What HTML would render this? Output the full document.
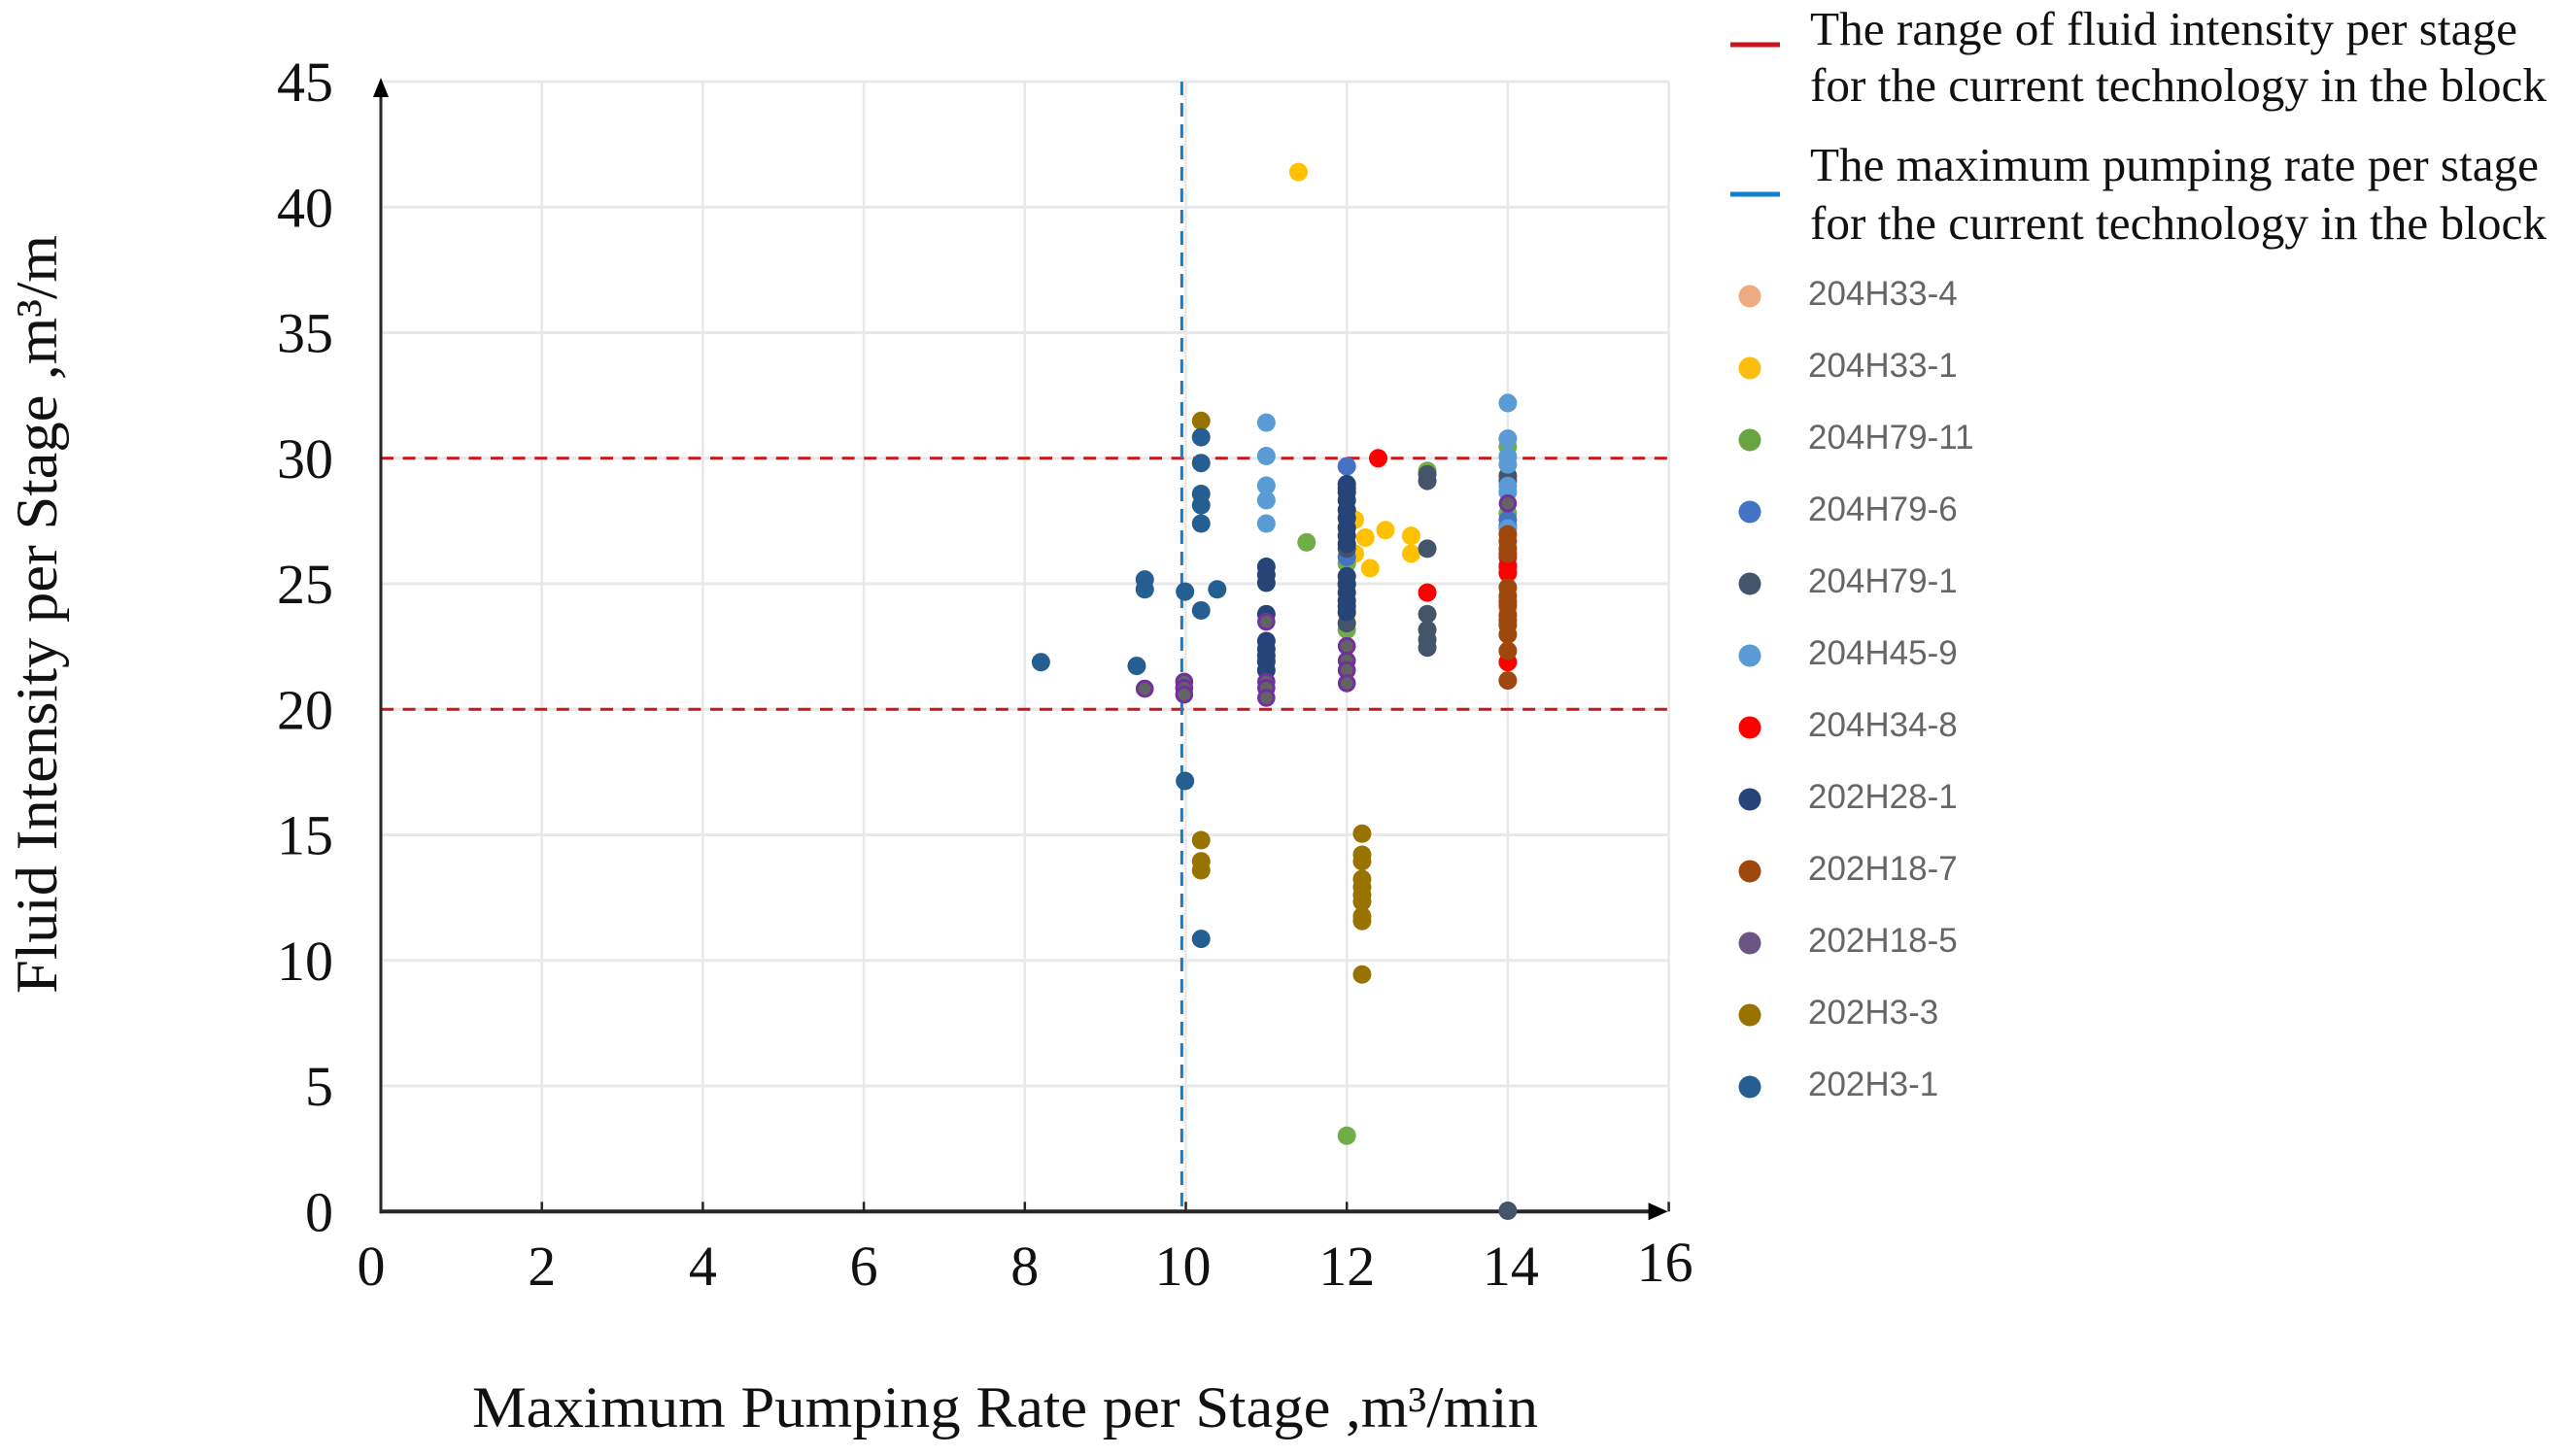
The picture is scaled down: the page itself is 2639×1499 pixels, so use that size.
<!DOCTYPE html>
<html lang="en">
<head>
<meta charset="utf-8">
<title>Fluid intensity vs maximum pumping rate per stage</title>
<style>
html,body{margin:0;padding:0;background:#fff;}
svg{display:block;}
text{font-family:"Liberation Serif",serif;fill:#111;}
.lg{font-family:"Liberation Sans",sans-serif;font-size:35px;fill:#666;}
</style>
</head>
<body>
<svg id="chart" xmlns="http://www.w3.org/2000/svg" width="2639" height="1499" viewBox="0 0 2639 1499">
<rect width="2639" height="1499" fill="#fff"/>
<g id="grid"></g>
<g id="refs"></g>
<g id="axes"></g>
<g id="marks"></g>
<text x="486" y="1469" font-size="60" textLength="1097" lengthAdjust="spacingAndGlyphs">Maximum Pumping Rate per Stage ,m³/min</text>
<text transform="translate(58,1023) rotate(-90)" font-size="60" textLength="781" lengthAdjust="spacingAndGlyphs">Fluid Intensity per Stage ,m³/m</text>
<g>
<line x1="1781" x2="1832" y1="46" y2="46" stroke="#c8161d" stroke-width="5"/>
<text x="1863" y="46" font-size="49" textLength="728" lengthAdjust="spacingAndGlyphs">The range of fluid  intensity per stage</text>
<text x="1863" y="104" font-size="49" textLength="758" lengthAdjust="spacingAndGlyphs">for the current technology in the block</text>
<line x1="1781" x2="1832" y1="200" y2="200" stroke="#0f7fd1" stroke-width="5"/>
<text x="1863" y="186" font-size="49" textLength="750" lengthAdjust="spacingAndGlyphs">The maximum  pumping rate per stage</text>
<text x="1863" y="246" font-size="49" textLength="758" lengthAdjust="spacingAndGlyphs">for the current technology in the block</text>
<g id="legend-items"></g>
</g>
</svg>
<script>
const xTicks = [0, 2, 4, 6, 8, 10, 12, 14, 16];
const yTicks = [0, 5, 10, 15, 20, 25, 30, 35, 40, 45];
const rangeLimits = [20, 30];
const maxRateLimit = [9.95];

const seriesNames = ['204H33-4','204H33-1','204H79-11','204H79-6','204H79-1','204H45-9','204H34-8','202H28-1','202H18-7','202H18-5','202H3-3','202H3-1'];
const seriesColors = ['#f4b183','#ffc000','#70ad47','#4472c4','#44546a','#5b9bd5','#ff0000','#264478','#9e480e','#636363','#997300','#255e91'];
const legendColors = ['#eeaa80','#ffbd0f','#6aa341','#4472c4','#44546a','#5b9bd5','#ff0000','#264478','#9e480e','#6b5583','#997300','#255e91'];

const x204H33_4 = [14];
const y204H33_4 = [24];
const x204H33_1 = [11.4,12.1,12.23,12.48,12.8,12.8,12.29,12.1,12,12];
const y204H33_1 = [41.4,27.55,26.84,27.14,26.91,26.2,25.62,26.2,23.8,27.3];
const x204H79_11 = [11.5,12,12,12,13,14,14];
const y204H79_11 = [26.65,3.02,23.17,25.81,29.5,30.46,27.8];
const x204H79_6 = [12,12,12,14,14];
const y204H79_6 = [29.68,26.07,25,27.55,27.3];
const x204H79_1 = [13,13,13,13,13,13,13,14,14,14,12,12];
const y204H79_1 = [29.36,29.1,26.4,23.79,23.17,22.78,22.46,0.03,29.3,29.1,26.4,23.43];
const x204H45_9 = [11,11,11,11,11,14,14,14,14,14,14,14,14];
const y204H45_9 = [31.42,30.09,28.91,28.33,27.4,32.2,30.78,30.07,29.75,28.9,28.65,27.2,25.75];
const x204H34_8 = [12.39,13,14,14,14,14];
const y204H34_8 = [30,24.65,26.07,25.68,25.43,21.88];
const x202H28_1 = [11,11,11,11,11,11,11,11,11,12,12,12,12,12,12,12,12,12,12,12,12,12,12,12];
const y202H28_1 = [25.68,25.36,25.04,23.79,22.72,22.4,22.14,21.9,21.56,28.97,28.65,28.33,27.94,27.62,27.23,26.91,26.59,25.3,24.98,24.65,24.33,24.1,23.88,28.8];
const x202H18_7 = [14,14,14,14,14,14,14,14,14,14,14,14,14,14];
const y202H18_7 = [26.97,26.7,26.4,26.2,24.85,24.52,24.14,23.75,23.36,22.98,23.55,24.3,22.33,21.15];
const x202H18_5 = [9.49,9.98,9.98,9.98,11,11,11,11,12,12,12,12,14];
const y202H18_5 = [20.82,21.1,20.85,20.59,23.49,21.1,20.85,20.46,22.52,21.94,21.56,21.04,28.2];
const x202H3_3 = [10.19,10.19,10.19,10.19,12.19,12.19,12.19,12.19,12.19,12.19,12.19,12.19,12.19,12.19];
const y202H3_3 = [31.49,14.79,13.95,13.59,15.05,14.21,13.95,13.24,12.92,12.6,12.34,11.76,11.57,9.44];
const x202H3_1 = [8.2,9.39,9.49,9.49,9.99,10.19,10.39,9.99,10.19,10.19,10.19,10.19,10.19,10.19];
const y202H3_1 = [21.88,21.73,25.17,24.78,24.69,23.94,24.78,17.15,10.86,30.84,29.81,28.58,28.13,27.4];

const seriesX = [x204H33_4,x204H33_1,x204H79_11,x204H79_6,x204H79_1,x204H45_9,x204H34_8,x202H28_1,x202H18_7,x202H18_5,x202H3_3,x202H3_1];
const seriesY = [y204H33_4,y204H33_1,y204H79_11,y204H79_6,y204H79_1,y204H45_9,y204H34_8,y202H28_1,y202H18_7,y202H18_5,y202H3_3,y202H3_1];

const NS = 'http://www.w3.org/2000/svg';
const xScale = v => 392 + 82.85 * v;
const yScale = v => 1247.3 - 25.85 * v;
const gridEl = document.getElementById('grid');
const refsEl = document.getElementById('refs');
const axesEl = document.getElementById('axes');
const marksEl = document.getElementById('marks');
const legendEl = document.getElementById('legend-items');

function mk(parent, tag, attrs, text) {
  const el = document.createElementNS(NS, tag);
  for (const k in attrs) el.setAttribute(k, attrs[k]);
  if (text !== undefined) el.textContent = text;
  parent.appendChild(el);
  return el;
}

xTicks.forEach(v => {
  const px = xScale(v);
  if (v > 0) {
    const g = mk(gridEl, 'line', {x1: px, x2: px, y1: yScale(45), y2: yScale(0), stroke: '#e8e8e8', 'stroke-width': 2.5});
    
    
    const t = mk(axesEl, 'line', {x1: px, x2: px, y1: yScale(0) - 10, y2: yScale(0), stroke: '#262626', 'stroke-width': 2.5});
    
    
  }
  const dx = v === 0 ? -10 : v === 14 ? 3 : v === 10 ? -3 : v === 16 ? -4 : 0;
  const dy = v === 16 ? -4 : 0;
  const label = mk(axesEl, 'text', {x: px + dx, y: 1323 + dy, 'font-size': 58, 'text-anchor': 'middle'}, String(v));
  
  
});

yTicks.forEach(v => {
  const py = yScale(v);
  if (v > 0) {
    const g = mk(gridEl, 'line', {x1: xScale(0), x2: xScale(16), y1: py, y2: py, stroke: '#e8e8e8', 'stroke-width': 3});
    
    
  }
  const label = mk(axesEl, 'text', {x: 343, y: py + 20, 'font-size': 58, 'text-anchor': 'end'}, String(v));
  
  
});

rangeLimits.forEach(v => {
  const l = mk(refsEl, 'line', {x1: xScale(0), x2: xScale(16), y1: yScale(v), y2: yScale(v), stroke: '#c8161d', 'stroke-width': 3, 'stroke-dasharray': '13 9.6'});
  
  
});
maxRateLimit.forEach(v => {
  const l = mk(refsEl, 'line', {x1: xScale(v), x2: xScale(v), y1: yScale(45), y2: yScale(0), stroke: '#0f7fd1', 'stroke-width': 3, 'stroke-dasharray': '14 8'});
  
  
});

const yAxisLine = mk(axesEl, 'line', {x1: xScale(0), x2: xScale(0), y1: yScale(0) + 2, y2: yScale(45), stroke: '#262626', 'stroke-width': 3});


const xAxisLine = mk(axesEl, 'line', {x1: xScale(0) - 1, x2: xScale(16) - 8, y1: yScale(0), y2: yScale(0), stroke: '#262626', 'stroke-width': 4});


const yArrow = mk(axesEl, 'path', {d: 'M' + xScale(0) + ' ' + (yScale(45) - 4) + 'l-8 20h16z', fill: '#000'});


const xArrow = mk(axesEl, 'path', {d: 'M' + (xScale(16) - 1) + ' ' + yScale(0) + 'l-20 -9v18z', fill: '#000'});



seriesNames.forEach((name, i) => {
  const isOutlined = name === '202H18-5';
  seriesX[i].forEach((xv, j) => {
    const dot = mk(marksEl, 'circle', {cx: xScale(xv), cy: yScale(seriesY[i][j]), r: isOutlined ? 7.8 : 9.5, fill: seriesColors[i]});
    if (isOutlined) { dot.setAttribute('stroke', '#7030a0'); dot.setAttribute('stroke-width', 3); }
    
    
  });
  const ly = 305 + 74 * i;
  const sw = mk(legendEl, 'circle', {cx: 1801, cy: ly, r: 11.5, fill: legendColors[i]});
  
  
  const lt = mk(legendEl, 'text', {x: 1861, y: ly + 9, class: 'lg'}, name);
  
  
});
</script>
</body>
</html>
